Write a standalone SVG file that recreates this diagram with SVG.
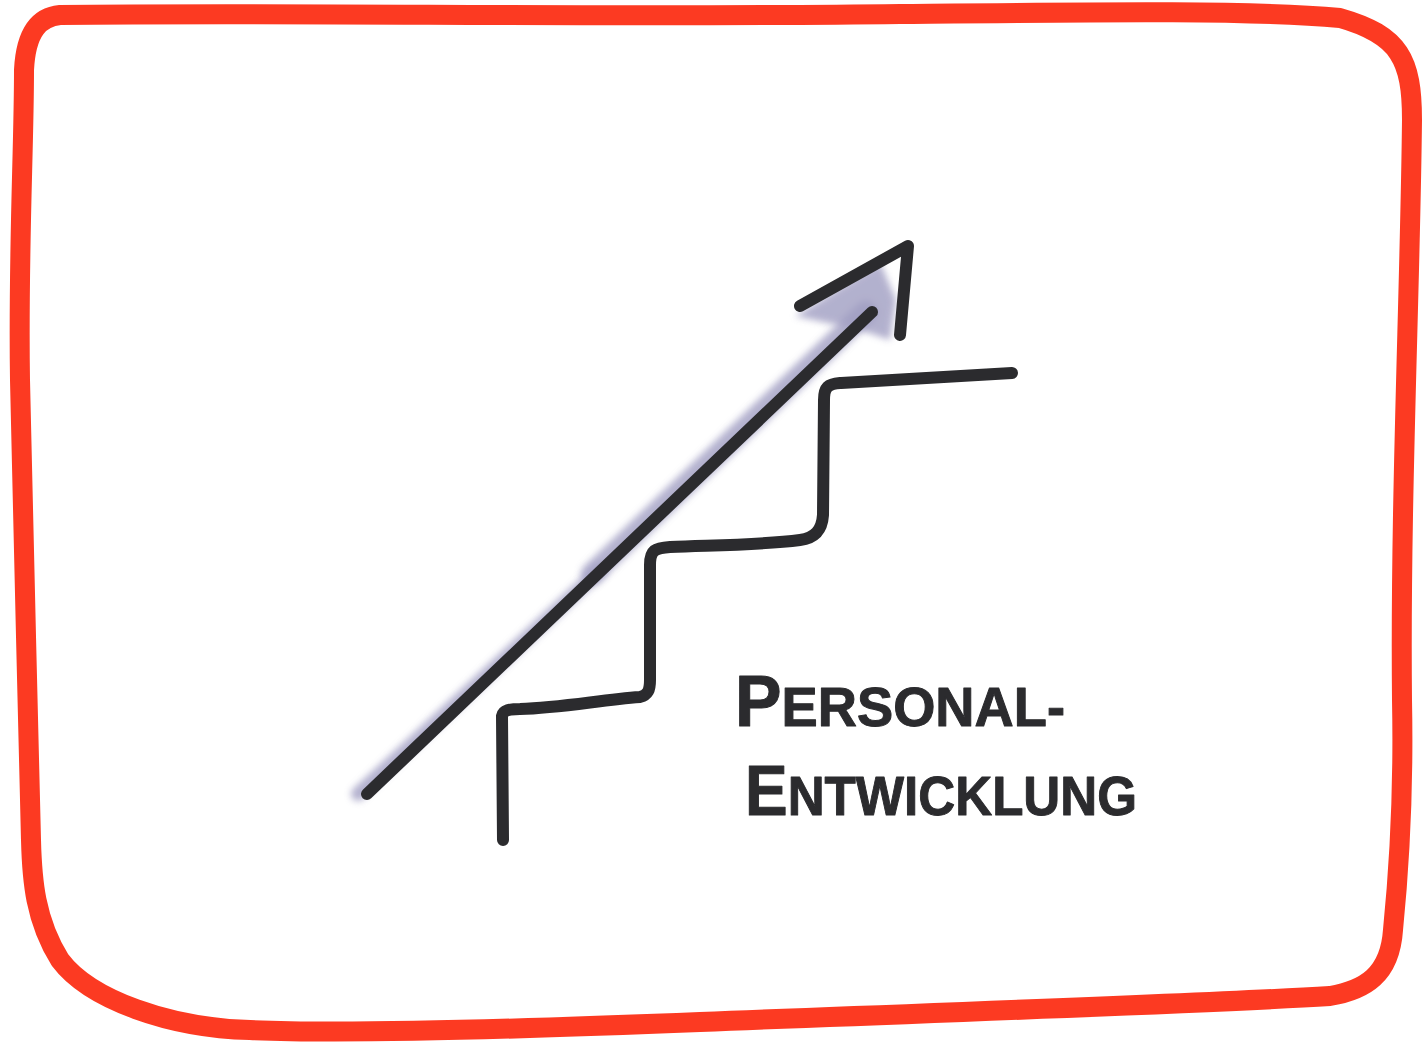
<svg xmlns="http://www.w3.org/2000/svg" width="1422" height="1045" viewBox="0 0 1422 1045">
<defs>
<style>
.frame{fill:none;stroke:#fc3a22;stroke-width:20;stroke-linecap:round;stroke-linejoin:round}
.ink{fill:none;stroke:#2b2b2e;stroke-width:12;stroke-linecap:round;stroke-linejoin:round}
.shadow{fill:none;stroke:#a09ec2;stroke-linecap:round;stroke-linejoin:round;opacity:0.8}
.lbl{font-family:"Liberation Sans",Arial,sans-serif;font-weight:bold;fill:#2b2b2e;stroke:#2b2b2e;stroke-width:1;stroke-linejoin:round}
</style>
<filter id="blur" x="-20%" y="-20%" width="140%" height="140%"><feGaussianBlur stdDeviation="3.5"/></filter>
</defs>
<rect width="1422" height="1045" fill="#ffffff"/>
<g id="frame">
<path class="frame" d="M60,15 C300,12 600,18 900,14 C1100,12 1250,10 1340,18 C1400,35 1412,60 1412,120 C1410,300 1400,500 1402,700 C1404,800 1398,880 1393,930 C1390,975 1365,990 1330,996 C1200,1004 1000,1010 700,1022 C500,1030 340,1034 250,1030 C170,1028 90,1000 60,960 C35,920 32,880 31,840 C28,700 22,500 20,380 C18,250 24,150 24,70 C26,30 40,17 60,15 Z"/>
</g>
<g id="stairs">
<path class="ink" d="M503,840 L502,716 C503,710 510,709 520,709 C560,708 600,700 640,697 C648,695 650,690 650,680 L650,565 C650,550 655,548 670,547 C720,545 760,545 800,540 C815,538 822,530 823,515 L824,400 C824,387 828,384 840,383 C900,380 960,376 1012,373"/>
</g>
<g id="arrow">
<path class="shadow" stroke-width="14" filter="url(#blur)" d="M358,794 L600,570"/>
<path class="shadow" stroke-width="22" filter="url(#blur)" d="M592,574 L866,312"/>
<path fill="#a09ec2" opacity="0.8" filter="url(#blur)" d="M795,316 L880,262 L896,300 L890,340 L860,330 Z"/>
<path class="ink" d="M367,794 L872,312"/>
<path class="ink" d="M800,306 L908,246 L900,335"/>
</g>
<g id="label">
<text class="lbl" x="735" y="726" font-size="56" textLength="330" lengthAdjust="spacingAndGlyphs"><tspan font-size="72">P</tspan>ERSONAL-</text>
<text class="lbl" x="745" y="815" font-size="56" textLength="392" lengthAdjust="spacingAndGlyphs"><tspan font-size="70">E</tspan>NTWICKLUNG</text>
</g>
</svg>
